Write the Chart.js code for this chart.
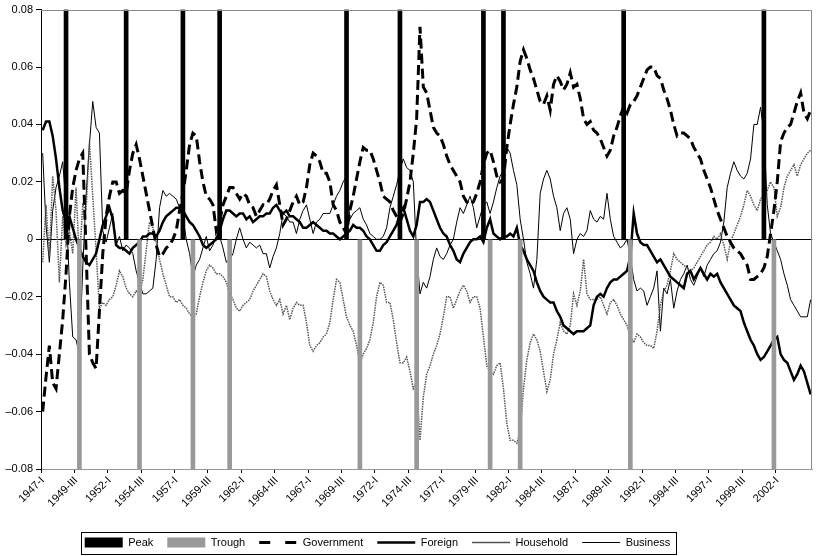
<!DOCTYPE html>
<html>
<head>
<meta charset="utf-8">
<script src="https://cdn.jsdelivr.net/npm/chart.js@4.4.1/dist/chart.umd.min.js"></script>
<style>
  html, body { margin: 0; padding: 0; background: #fff; }
</style>
</head>
<body>
<canvas id="chart" width="821" height="556"></canvas>
<script>
// Quarterly categories 1947-I .. 2004-III
const romans = ['I', 'II', 'III', 'IV'];
const quarters = [];
for (let y = 1947; y <= 2004; y++) {
    romans.forEach(q => quarters.push(y + '-' + q));
}
quarters.length = 231;

// NBER business cycle dates
const peaks = ['1948-IV', '1953-II', '1957-III', '1960-II', '1969-IV', '1973-IV', '1980-I', '1981-III', '1990-III', '2001-I'];
const troughs = ['1949-IV', '1954-II', '1958-II', '1961-I', '1970-IV', '1975-I', '1980-III', '1982-IV', '1991-I', '2001-IV'];

const government = [
    -0.060, -0.048, -0.037, -0.050, -0.052, -0.040, -0.028, -0.012, 0.008, 0.018,
    0.024, 0.028, 0.030, -0.004, -0.040, -0.043, -0.045, -0.025, -0.005, 0.008,
    0.015, 0.020, 0.020, 0.016, 0.017, 0.016, 0.024, 0.030, 0.033, 0.028,
    0.022, 0.016, 0.010, 0.004, -0.002, -0.006, -0.005, -0.003, -0.002, 0.000,
    0.003, 0.010, 0.016, 0.024, 0.033, 0.037, 0.036, 0.027, 0.020, 0.015,
    0.014, 0.012, 0.003, 0.006, 0.012, 0.015, 0.018, 0.018, 0.016, 0.014,
    0.016, 0.015, 0.012, 0.011, 0.008, 0.010, 0.012, 0.012, 0.014, 0.017,
    0.019, 0.012, 0.005, 0.007, 0.010, 0.013, 0.015, 0.012, 0.013, 0.018,
    0.026, 0.030, 0.029, 0.027, 0.023, 0.023, 0.020, 0.012, 0.010, 0.006,
    0.004, 0.002, 0.010, 0.015, 0.021, 0.027, 0.032, 0.031, 0.031, 0.028,
    0.024, 0.020, 0.015, 0.014, 0.013, 0.010, 0.008, 0.006, 0.009, 0.014,
    0.020, 0.030, 0.042, 0.074, 0.053, 0.051, 0.045, 0.039, 0.037, 0.036,
    0.033, 0.029, 0.026, 0.024, 0.022, 0.020, 0.015, 0.013, 0.012, 0.013,
    0.016, 0.020, 0.026, 0.030, 0.031, 0.027, 0.022, 0.020, 0.021, 0.032,
    0.040, 0.047, 0.053, 0.062, 0.066, 0.063, 0.059, 0.056, 0.052, 0.048,
    0.047, 0.050, 0.045, 0.054, 0.057, 0.055, 0.052, 0.054, 0.058, 0.053,
    0.054, 0.049, 0.042, 0.040, 0.041, 0.038, 0.037, 0.035, 0.032, 0.029,
    0.031, 0.036, 0.039, 0.043, 0.046, 0.044, 0.047, 0.048, 0.050, 0.053,
    0.056, 0.059, 0.060, 0.060, 0.057, 0.056, 0.052, 0.049, 0.045, 0.040,
    0.036, 0.037, 0.037, 0.036, 0.035, 0.032, 0.030, 0.028, 0.024, 0.021,
    0.018, 0.014, 0.010, 0.007, 0.004, 0.001, -0.001, -0.003, -0.004, -0.005,
    -0.007, -0.009, -0.014, -0.014, -0.013, -0.012, -0.010, -0.006, 0.002, 0.010,
    0.020, 0.034, 0.037, 0.039, 0.040, 0.044, 0.048, 0.051, 0.044, 0.042, 0.045
];

const foreign = [
    0.038, 0.041, 0.041, 0.036, 0.028, 0.018, 0.010, 0.006, 0.008, 0.004,
    0.000, -0.003, -0.006, -0.008, -0.009, -0.007, -0.005, 0.000, 0.005, 0.008,
    0.011, 0.007, -0.002, -0.003, -0.003, -0.004, -0.005, -0.003, -0.002, -0.001,
    0.001, 0.001, 0.002, 0.002, 0.001, 0.003, 0.006, 0.008, 0.009, 0.010,
    0.011, 0.011, 0.010, 0.008, 0.006, 0.005, 0.003, 0.001, -0.002, -0.003,
    -0.002, -0.001, 0.000, 0.003, 0.007, 0.010, 0.010, 0.009, 0.008, 0.009,
    0.009, 0.007, 0.008, 0.006, 0.007, 0.008, 0.008, 0.009, 0.009, 0.011,
    0.012, 0.010, 0.009, 0.010, 0.008, 0.008, 0.007, 0.006, 0.004, 0.004,
    0.005, 0.006, 0.005, 0.004, 0.003, 0.003, 0.002, 0.002, 0.001, 0.000,
    0.001, 0.002, 0.003, 0.005, 0.004, 0.004, 0.003, 0.001, 0.000, -0.002,
    -0.004, -0.004, -0.002, -0.001, 0.001, 0.003, 0.005, 0.009, 0.011, 0.007,
    0.003, 0.001, 0.005, 0.013, 0.013, 0.014, 0.013, 0.010, 0.007, 0.004,
    0.002, 0.001, -0.002, -0.004, -0.007, -0.008, -0.005, -0.003, -0.001, 0.000,
    0.000, 0.001, -0.001, 0.004, 0.007, 0.002, 0.001, 0.000, 0.001, 0.001,
    0.002, 0.001, 0.004, -0.002, -0.004, -0.007, -0.009, -0.011, -0.015, -0.018,
    -0.020, -0.021, -0.022, -0.022, -0.025, -0.027, -0.030, -0.031, -0.032, -0.033,
    -0.032, -0.032, -0.032, -0.031, -0.030, -0.023, -0.020, -0.019, -0.020, -0.017,
    -0.015, -0.014, -0.014, -0.013, -0.012, -0.011, -0.006, 0.009, 0.002, -0.001,
    -0.002, -0.002, -0.004, -0.006, -0.008, -0.007, -0.009, -0.011, -0.013, -0.014,
    -0.015, -0.016, -0.017, -0.012, -0.011, -0.014, -0.012, -0.010, -0.012, -0.014,
    -0.012, -0.013, -0.012, -0.015, -0.017, -0.019, -0.021, -0.023, -0.024, -0.025,
    -0.029, -0.032, -0.035, -0.037, -0.040, -0.042, -0.041, -0.039, -0.037, -0.035,
    -0.034, -0.040, -0.042, -0.043, -0.046, -0.049, -0.047, -0.044, -0.046, -0.050, -0.054
];

const household = [
    -0.008, 0.012, -0.006, 0.022, 0.010, -0.015, 0.008, -0.002, 0.003, -0.005,
    0.018, -0.008, 0.012, 0.010, 0.034, 0.015, -0.004, -0.024, -0.022, -0.023,
    -0.021, -0.020, -0.016, -0.011, -0.013, -0.017, -0.019, -0.020, -0.018, -0.019,
    -0.014, -0.004, 0.006, 0.004, -0.001, -0.007, -0.012, -0.016, -0.020, -0.020,
    -0.022, -0.021, -0.023, -0.024, -0.026, -0.027, -0.026, -0.020, -0.015, -0.011,
    -0.009, -0.010, -0.012, -0.012, -0.013, -0.015, -0.019, -0.021, -0.024, -0.025,
    -0.023, -0.022, -0.021, -0.018, -0.016, -0.014, -0.012, -0.013, -0.018, -0.021,
    -0.023, -0.021, -0.026, -0.023, -0.028, -0.024, -0.022, -0.023, -0.023, -0.029,
    -0.037, -0.039, -0.037, -0.036, -0.034, -0.033, -0.029, -0.021, -0.014, -0.015,
    -0.021, -0.027, -0.030, -0.032, -0.037, -0.043, -0.040, -0.038, -0.035, -0.029,
    -0.020, -0.015, -0.016, -0.022, -0.022, -0.028, -0.036, -0.043, -0.043, -0.041,
    -0.046, -0.052, -0.050, -0.070, -0.055, -0.047, -0.044, -0.040, -0.037, -0.033,
    -0.027, -0.020, -0.020, -0.024, -0.021, -0.018, -0.016, -0.018, -0.022, -0.020,
    -0.020, -0.024, -0.034, -0.044, -0.046, -0.047, -0.044, -0.043, -0.052, -0.064,
    -0.070, -0.070, -0.071, -0.067, -0.052, -0.042, -0.036, -0.033, -0.035, -0.039,
    -0.046, -0.053, -0.049, -0.040, -0.035, -0.029, -0.032, -0.033, -0.030, -0.019,
    -0.023, -0.018, -0.007, -0.019, -0.021, -0.021, -0.021, -0.020, -0.023, -0.026,
    -0.022, -0.021, -0.023, -0.026, -0.028, -0.030, -0.034, -0.036, -0.033, -0.034,
    -0.036, -0.037, -0.037, -0.038, -0.032, -0.023, -0.018, -0.016, -0.011, -0.005,
    -0.007, -0.008, -0.009, -0.010, -0.011, -0.010, -0.008, -0.006, -0.004, -0.002,
    -0.001, 0.001, 0.000, 0.002, -0.002, -0.007, -0.001, 0.002, 0.005, 0.008,
    0.012, 0.017, 0.015, 0.012, 0.010, 0.014, 0.016, 0.017, 0.020, 0.018,
    0.008, 0.011, 0.018, 0.022, 0.024, 0.026, 0.022, 0.026, 0.028, 0.030, 0.031
];

const business = [
    0.030, 0.005, -0.008, 0.010, 0.018, 0.022, 0.027, 0.012, -0.015, -0.034,
    -0.035, -0.040, -0.010, 0.015, 0.033, 0.048, 0.039, 0.037, 0.003, -0.001,
    0.004, 0.009, -0.002, 0.001, -0.004, -0.002, -0.003, -0.005, -0.011, -0.015,
    -0.019, -0.019, -0.018, -0.017, -0.007, 0.011, 0.017, 0.015, 0.016, 0.015,
    0.014, 0.011, 0.008, 0.000, -0.005, -0.013, -0.009, -0.007, -0.003, 0.001,
    -0.004, -0.002, 0.001, 0.001, -0.003, -0.008, -0.007, -0.005, 0.000, 0.004,
    0.000, -0.003, -0.001, -0.002, -0.003, -0.002, -0.005, -0.005, -0.010, -0.006,
    -0.003, 0.002, 0.009, 0.008, 0.006, 0.006, 0.002, 0.007, 0.010, 0.012,
    0.007, 0.002, 0.006, 0.007, 0.009, 0.009, 0.009, 0.012, 0.015, 0.017,
    0.020, 0.022, 0.007, 0.009, 0.010, 0.011, 0.007, 0.005, 0.002, 0.001,
    0.000, 0.000, 0.001, 0.004, 0.011, 0.015, 0.019, 0.024, 0.028, 0.025,
    0.024, 0.020, -0.005, -0.019, -0.015, -0.017, -0.013, -0.007, -0.003, -0.006,
    -0.007, -0.005, -0.002, 0.000, 0.006, 0.011, 0.009, 0.012, 0.015, 0.011,
    0.004, 0.008, 0.012, 0.013, 0.009, 0.013, 0.018, 0.022, 0.024, 0.032,
    0.030, 0.024, 0.019, 0.007, 0.000, -0.008, -0.012, -0.017, -0.007, 0.016,
    0.021, 0.024, 0.021, 0.015, 0.011, 0.003, 0.009, 0.011, 0.007, -0.005,
    0.000, 0.002, 0.001, 0.003, 0.010, 0.007, 0.006, 0.008, 0.007, 0.016,
    0.007, 0.001, -0.001, -0.003, -0.002, 0.000, -0.006, -0.014, -0.018, -0.017,
    -0.018, -0.023, -0.020, -0.017, -0.011, -0.032, -0.017, -0.019, -0.014, -0.024,
    -0.018, -0.014, -0.012, -0.009, -0.014, -0.016, -0.013, -0.010, -0.013, -0.009,
    -0.007, -0.005, -0.004, -0.001, 0.006, 0.018, 0.023, 0.027, 0.024, 0.022,
    0.021, 0.023, 0.028, 0.040, 0.040, 0.046, 0.037, 0.012, 0.002, -0.001,
    -0.004, -0.007, -0.012, -0.016, -0.021, -0.023, -0.025, -0.027, -0.027, -0.027, -0.021
];

const peakData = quarters.map(q => peaks.includes(q) ? 0.08 : null);
const troughData = quarters.map(q => troughs.includes(q) ? -0.08 : null);

const font = { family: "'Liberation Sans', Arial, sans-serif", size: 11 };

// gray frame on top/right + box round the legend
const framePlugin = {
    id: 'frame',
    afterLayout(chart) {
        const lg = chart.legend;
        lg.left -= 31; lg.right -= 31;
        lg.top += 2; lg.bottom += 2;
    },
    afterDatasetsDraw(chart) {
        const { ctx, chartArea: a } = chart;
        ctx.save();
        ctx.strokeStyle = '#888';
        ctx.lineWidth = 1;
        ctx.beginPath();
        ctx.moveTo(a.left, Math.round(a.top) + 0.5);
        ctx.lineTo(Math.round(a.right) - 0.5, Math.round(a.top) + 0.5);
        ctx.lineTo(Math.round(a.right) - 0.5, a.bottom);
        ctx.stroke();
        ctx.restore();
    },
    afterDraw(chart) {
        const boxes = chart.legend.legendHitBoxes;
        if (!boxes || !boxes.length) return;
        const left = Math.min(...boxes.map(b => b.left));
        const right = Math.max(...boxes.map(b => b.left + b.width));
        const cy = boxes[0].top + boxes[0].height / 2;
        const ctx = chart.ctx;
        ctx.save();
        ctx.strokeStyle = '#000';
        ctx.lineWidth = 1;
        ctx.strokeRect(Math.round(left - 4) + 0.5, Math.round(cy - 11) + 0.5, Math.round(right - left + 9), 22);
        ctx.restore();
    }
};

new Chart(document.getElementById('chart').getContext('2d'), {
    data: {
        labels: quarters,
        datasets: [
            { type: 'bar', label: 'Peak', data: peakData, backgroundColor: '#000', barThickness: 4, grouped: false },
            { type: 'bar', label: 'Trough', data: troughData, backgroundColor: '#999', barThickness: 4, grouped: false },
            { type: 'line', label: 'Government', data: government, borderColor: '#000', borderWidth: 3, borderDash: [10, 5], pointRadius: 0, tension: 0 },
            { type: 'line', label: 'Foreign', data: foreign, borderColor: '#000', borderWidth: 2.5, pointRadius: 0, tension: 0 },
            { type: 'line', label: 'Household', data: household, borderColor: '#555', borderWidth: 1.5, borderDash: [1.5, 1], pointRadius: 0, tension: 0 },
            { type: 'line', label: 'Business', data: business, borderColor: '#000', borderWidth: 1, pointRadius: 0, tension: 0 }
        ]
    },
    options: {
        responsive: false,
        animation: false,
        layout: { padding: { top: 8, right: 4, left: 0, bottom: 0 } },
        plugins: {
            tooltip: { enabled: false },
            legend: {
                position: 'bottom',
                labels: {
                    usePointStyle: true,
                    pointStyleWidth: 38,
                    boxHeight: 10,
                    padding: 14,
                    color: '#000',
                    font: font,
                    generateLabels(chart) {
                        const items = Chart.defaults.plugins.legend.labels.generateLabels(chart);
                        items.forEach(it => {
                            const ds = chart.data.datasets[it.datasetIndex];
                            it.pointStyle = ds.type === 'bar' ? 'rect' : 'line';
                            if (ds.label === 'Government') it.lineDash = [11, 15];
                        });
                        return items;
                    }
                }
            }
        },
        scales: {
            x: {
                type: 'category',
                offset: true,
                grid: {
                    drawOnChartArea: false,
                    tickLength: 4,
                    tickColor: c => c.index % 10 === 0 && c.index < 230 ? '#000' : 'rgba(0,0,0,0)'
                },
                border: { color: '#999' },
                ticks: {
                    autoSkip: false,
                    minRotation: 45,
                    maxRotation: 45,
                    padding: 1,
                    color: '#000',
                    font: font,
                    callback(value, index) {
                        return index % 10 === 0 && index < 230 ? this.getLabelForValue(value) : '';
                    }
                },
                afterFit(scale) { scale.height = 52; }
            },
            y: {
                min: -0.08,
                max: 0.08,
                grid: {
                    color: c => Math.abs(c.tick.value) < 1e-9 ? '#000' : 'rgba(0,0,0,0)',
                    tickColor: '#000',
                    tickLength: 5
                },
                border: { color: '#000' },
                ticks: {
                    stepSize: 0.02,
                    padding: 3,
                    color: '#000',
                    font: font,
                    callback(v) {
                        if (Math.abs(v) < 1e-9) return '0';
                        return (v < 0 ? '\u2013' : '') + Math.abs(v).toFixed(2);
                    }
                },
                afterFit(scale) { scale.width = 41; }
            }
        }
    },
    plugins: [framePlugin]
});
</script>
</body>
</html>
